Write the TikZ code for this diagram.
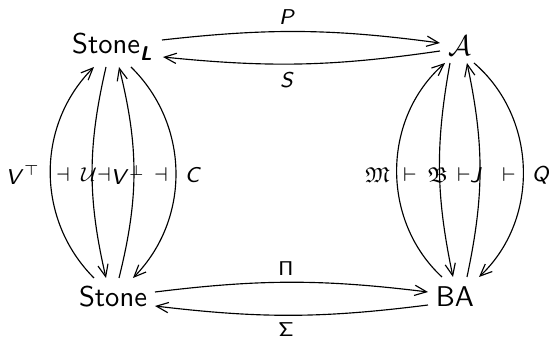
\documentclass[tikz,border=0pt]{standalone}
\usepackage{amssymb}
\usetikzlibrary{arrows.meta,calc}
\tikzset{
  obj/.style={font=\sffamily, inner sep=0pt},
  lab/.style={font=\sffamily\fontsize{7.5}{9}\selectfont, inner sep=0pt},
  every path/.style={line width=0.4pt},
  >={Straight Barb[length=4.2pt,width=3.6pt]},
}
\newcommand{\lsf}[1]{\textsf{\textit{#1}}}
\begin{document}
\begin{tikzpicture}[x=0.35pt,y=0.35pt]
\useasboundingbox (0,0) rectangle (549,-338);
% objects
\node[obj] (SL) at (112,-47) {Stone\raisebox{-2.4pt}{\scriptsize\bfseries\slshape L}};
\node[obj] (A)  at (460,-46) {$\mathcal{A}$};
\node[obj] (St) at (113,-297) {Stone};
\node[obj] (BA) at (455,-297) {BA};
% horizontal arrows
\draw[->] ($(SL)+(50,7)$) to[bend left=7] ($(A)+(-20,3)$);
\draw[->] ($(A)+(-20,-5)$) to[bend left=7] ($(SL)+(51,-10)$);
\draw[->] ($(St)+(42,5)$) to[bend left=7] ($(BA)+(-27,5)$);
\draw[->] ($(BA)+(-27,-8)$) to[bend left=7] ($(St)+(42,-9)$);
% left vertical arrows
\draw[<-] ($(SL)+(-18,-20)$) to[bend right=45] ($(St)+(-19,19)$);
\draw[->] ($(SL)+(-6,-20)$) to[bend right=13] ($(St)+(-7,19)$);
\draw[<-] ($(SL)+(7,-20)$) to[bend left=14] ($(St)+(6,19)$);
\draw[->] ($(SL)+(19,-20)$) to[bend left=45] ($(St)+(20,19)$);
% right vertical arrows
\draw[<-] ($(A)+(-15,-17)$) to[bend right=48] ($(BA)+(-13,20)$);
\draw[->] ($(A)+(-10,-17)$) to[bend right=11] ($(BA)+(-2,20)$);
\draw[<-] ($(A)+(7,-17)$) to[bend left=12] ($(BA)+(12,20)$);
\draw[->] ($(A)+(14,-17)$) to[bend left=48] ($(BA)+(24,20)$);
% labels
\node[lab] (lP) at (287,-17) {\lsf{P}};
\node[lab] (lS) at (287,-80) {\lsf{S}};
\node[lab] (lPi) at (286,-269) {$\mathsf{\Pi}$};
\node[lab] (lSi) at (286,-330) {$\mathsf{\Sigma}$};
\node[lab] (lVt) at (23,-175) {\lsf{V}$^{\top}$};
\node[lab] (d1) at (63,-175) {$\dashv$};
\node[lab] (lU) at (89,-175) {$\mathcal{U}$};
\node[lab] (d2) at (104,-175) {$\dashv$};
\node[lab] (lVp) at (128,-175) {\lsf{V}$^{\perp}$};
\node[lab] (d3) at (161,-175) {$\dashv$};
\node[lab] (lC) at (193,-175) {\lsf{C}};
\node[lab] (lM) at (378,-175) {$\mathfrak{M}$};
\node[lab] (v1) at (410,-175) {$\vdash$};
\node[lab] (lB) at (438,-175) {$\mathfrak{B}$};
\node[lab] (v2) at (464,-175) {$\vdash$};
\node[lab] (lJ) at (476,-175) {\lsf{J}};
\node[lab] (v3) at (509,-175) {$\vdash$};
\node[lab] (lQ) at (541,-175) {\lsf{Q}};
\end{tikzpicture}
\end{document}
